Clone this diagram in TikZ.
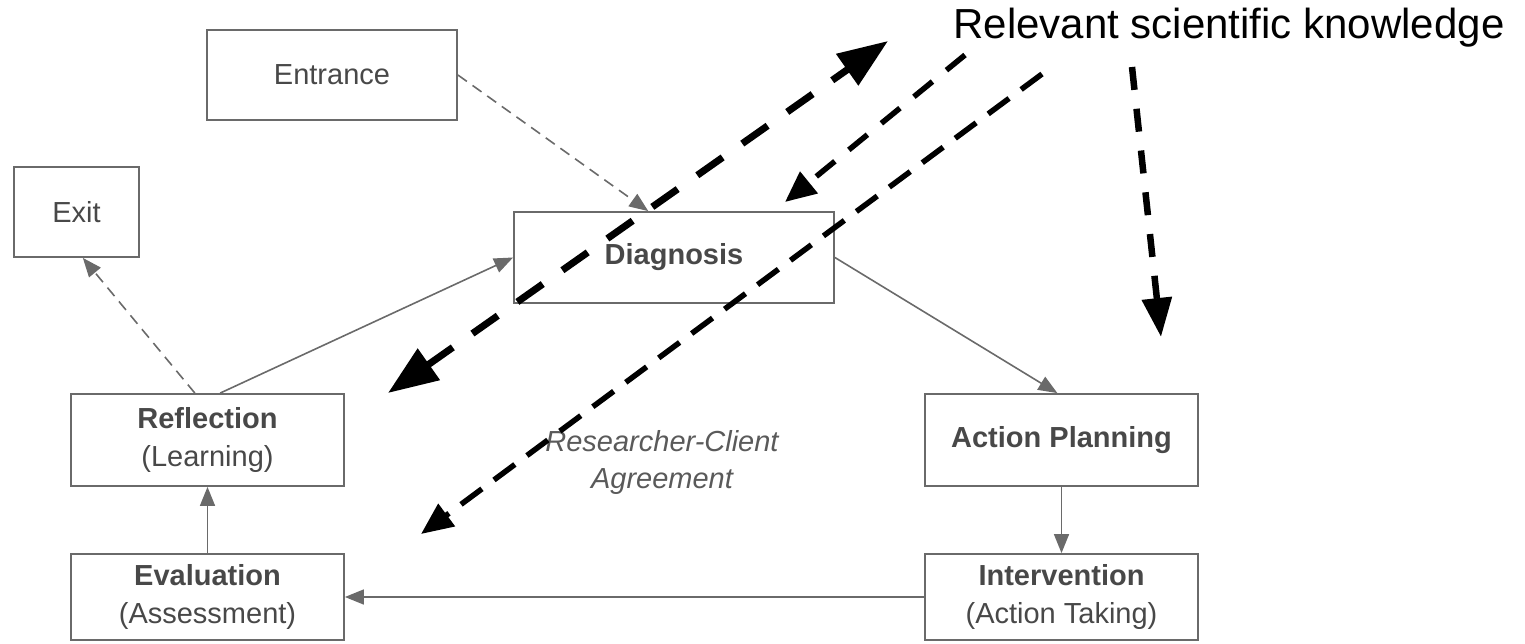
\documentclass[tikz,border=0pt]{standalone}
\usepackage{fontspec}
\setmainfont{Liberation Sans}
\usetikzlibrary{arrows.meta,calc}
\definecolor{boxline}{HTML}{6A6A6A}
\definecolor{boxtext}{HTML}{484848}
\definecolor{notetext}{HTML}{5A5A5A}
\begin{document}
\begin{tikzpicture}[x=1pt,y=-1pt,
  stage/.style={draw=boxline,line width=1.8pt,rectangle,inner sep=0pt,
    text=boxtext,align=center,font=\fontsize{29}{38}\selectfont},
  flow/.style={draw=boxline,line width=1.6pt,-{Triangle[length=19pt,width=15pt]}},
  flowdash/.style={flow,dash pattern=on 11pt off 7pt},
  knowboth/.style={line width=7pt,dash pattern=on 31pt off 24pt,
    {Triangle[length=50pt,width=37pt]}-{Triangle[length=50pt,width=37pt]}},
  knowA/.style={line width=5.5pt,dash pattern=on 24pt off 18pt,-{Triangle[length=31pt,width=27pt]}},
  knowB/.style={line width=5.5pt,dash pattern=on 26pt off 15pt,-{Triangle[length=32pt,width=27pt]}},
  knowC/.style={line width=6.5pt,dash pattern=on 23pt off 19pt,-{Triangle[length=39pt,width=29pt]}},
]
\useasboundingbox (0,0) rectangle (1525,644);

% process stages
\node[stage,minimum width=250pt,minimum height=90pt] (entr) at (332,75) {Entrance};
\node[stage,minimum width=125pt,minimum height=90pt] (exit) at (76.5,212) {Exit};
\node[stage,minimum width=320pt,minimum height=91pt] (diag) at (674,257.5) {\textbf{Diagnosis}};
\node[stage,minimum width=273pt,minimum height=92pt] (refl) at (207.5,440) {\textbf{Reflection}\\(Learning)};
\node[stage,minimum width=273pt,minimum height=92pt] (plan) at (1061.5,440) {\textbf{Action Planning}};
\node[stage,minimum width=273pt,minimum height=86pt] (eval) at (207.5,597) {\textbf{Evaluation}\\(Assessment)};
\node[stage,minimum width=273pt,minimum height=86pt] (intv) at (1061.5,597) {\textbf{Intervention}\\(Action Taking)};

\node[text=notetext,align=center,font=\fontsize{29}{37}\selectfont\itshape] (agree) at (662,462)
  {Researcher-Client\\Agreement};

\node[anchor=base,font=\fontsize{42}{48}\selectfont] (know) at (1229,39) {Relevant scientific knowledge};

% cycle connectors
\draw[flowdash] (entr.east) -- ($(diag.north west)!0.42!(diag.north east)$);
\draw[flowdash] ($(refl.north west)!0.454!(refl.north east)$) -- ($(exit.south west)!0.55!(exit.south east)$);
\draw[flow] ($(refl.north west)!0.546!(refl.north east)$) -- (diag.west);
\draw[flow] (diag.east) -- ($(plan.north west)!0.485!(plan.north east)$);
\draw[flow] (plan.south) -- (intv.north);
\draw[flow] (intv.west) -- (eval.east);
\draw[flow] (eval.north) -- (refl.south);

% knowledge links
\coordinate (k1a) at (388,393);
\coordinate (k1b) at (888,41);
\coordinate (k2a) at (965,55);
\coordinate (k2b) at (785,202);
\coordinate (k3a) at (1042,74);
\coordinate (k3b) at (421,534);
\coordinate (k4a) at (1132,67);
\coordinate (k4b) at (1161,337);
\draw[knowboth] (k1a) -- (k1b);
\draw[knowA] (k2a) -- (k2b);
\draw[knowB] (k3a) -- (k3b);
\draw[knowC] (k4a) -- (k4b);
\end{tikzpicture}
\end{document}
